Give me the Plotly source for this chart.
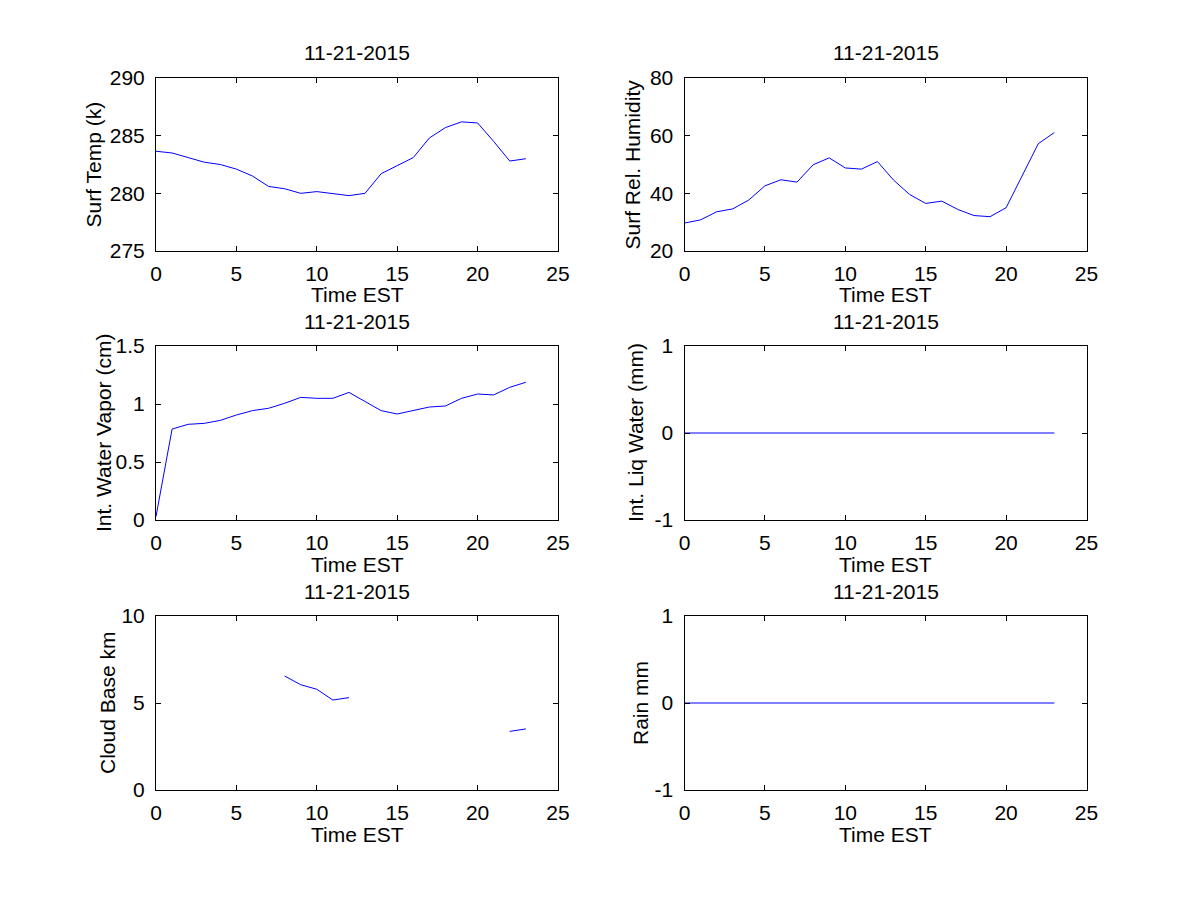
import plotly.graph_objects as go

hours = list(range(24))
date_label = "11-21-2015"

surf_temp = [283.65, 283.5, 283.1, 282.7, 282.5, 282.1, 281.5, 280.6, 280.4, 280.0,
             280.15, 280.0, 279.8, 280.0, 281.7, 282.4, 283.1, 284.8, 285.7, 286.2,
             286.1, 284.5, 282.8, 283.0]
surf_rh = [29.7, 30.8, 33.6, 34.6, 37.7, 42.6, 44.7, 43.9, 49.9, 52.3,
           48.8, 48.4, 51.0, 44.6, 39.6, 36.5, 37.3, 34.4, 32.3, 31.9,
           35.0, 46.1, 57.2, 61.1]
water_vapor = [0.03, 0.784, 0.825, 0.833, 0.859, 0.905, 0.943, 0.963, 1.006, 1.057,
               1.049, 1.049, 1.10, 1.02, 0.943, 0.914, 0.943, 0.974, 0.983, 1.049,
               1.086, 1.078, 1.144, 1.187]
liq_water = [0.0] * 24
cloud_base = [None, None, None, None, None, None, None, None, 6.55, 6.05,
              5.79, 5.17, 5.31, None, None, None, None, None, None, None,
              None, None, 3.37, 3.51]
rain = [0.0] * 24

panels = [
    (surf_temp, "Surf Temp (k)", [275, 290], [275, 280, 285, 290]),
    (surf_rh, "Surf Rel. Humidity", [20, 80], [20, 40, 60, 80]),
    (water_vapor, "Int. Water Vapor (cm)", [0, 1.5], [0, 0.5, 1, 1.5]),
    (liq_water, "Int. Liq Water (mm)", [-1, 1], [-1, 0, 1]),
    (cloud_base, "Cloud Base km", [0, 10], [0, 5, 10]),
    (rain, "Rain mm", [-1, 1], [-1, 0, 1]),
]
x_range = [0, 25]
x_ticks = [0, 5, 10, 15, 20, 25]

W, H = 1200, 900
col_px = [(156, 558), (684.5, 1086.5)]
row_px = [(78, 251), (346, 520), (616, 790)]
ytitle_x = [[93, 632], [104, 636], [107, 640]]

FONT = "Liberation Sans, Arial, Helvetica, sans-serif"
FS = 21

fig = go.Figure()
annotations = []
layout_axes = {}
for i, (vals, ylabel, yr, yt) in enumerate(panels):
    r, c = divmod(i, 2)
    n = i + 1
    xa = "x" if n == 1 else f"x{n}"
    ya = "y" if n == 1 else f"y{n}"
    fig.add_trace(go.Scatter(x=hours, y=vals, mode="lines",
                             line=dict(color="#0000ff", width=1),
                             connectgaps=False, xaxis=xa, yaxis=ya,
                             showlegend=False, hoverinfo="skip"))
    x0, x1 = col_px[c]
    top, bot = row_px[r]
    common = dict(showline=True, linecolor="black", linewidth=1, mirror="ticks",
                  ticks="inside", ticklen=5, tickcolor="black", tickwidth=1,
                  showgrid=False, zeroline=False, automargin=False,
                  tickfont=dict(family=FONT, size=FS, color="black"))
    layout_axes["xaxis" if n == 1 else f"xaxis{n}"] = dict(
        domain=[x0 / W, x1 / W], anchor=ya, range=x_range,
        tickvals=x_ticks, ticktext=[str(v) for v in x_ticks],
        ticklabelstandoff=4, **common)
    layout_axes["yaxis" if n == 1 else f"yaxis{n}"] = dict(
        domain=[1 - bot / H, 1 - top / H], anchor=xa, range=yr,
        tickvals=yt, ticktext=[f"{v:g}" for v in yt],
        ticklabelstandoff=6, **common)
    cx = (x0 + x1) / 2 / W
    annotations.append(dict(text=date_label, x=cx, y=1 - (top - 25) / H,
                            xref="paper", yref="paper", showarrow=False,
                            xanchor="center", yanchor="middle",
                            font=dict(family=FONT, size=FS, color="black")))
    annotations.append(dict(text="Time EST", x=cx, y=1 - (bot + 44) / H,
                            xref="paper", yref="paper", showarrow=False,
                            xanchor="center", yanchor="middle",
                            font=dict(family=FONT, size=FS, color="black")))
    annotations.append(dict(text=ylabel, x=ytitle_x[r][c] / W, y=1 - (top + bot) / 2 / H,
                            xref="paper", yref="paper", showarrow=False,
                            textangle=-90, xanchor="center", yanchor="middle",
                            font=dict(family=FONT, size=FS, color="black")))

fig.update_layout(template="none", width=W, height=H, margin=dict(l=0, r=0, t=0, b=0),
                  paper_bgcolor="white", plot_bgcolor="white",
                  annotations=annotations, **layout_axes)
fig.write_html("out.html", config={"displayModeBar": False},
               post_script="document.body.style.margin='0';")
